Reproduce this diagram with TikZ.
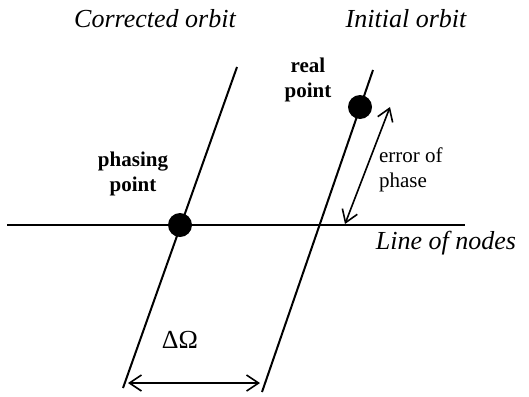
\documentclass[tikz,border=0pt]{standalone}
\usepackage{fontspec}
\setmainfont{Liberation Serif}
\usetikzlibrary{arrows.meta}
\tikzset{
  orbit/.style={line width=1pt},
  dot/.style={circle,fill=black,inner sep=0pt,minimum size=12pt},
  ptlbl/.style={font=\fontsize{10.5}{12.5}\selectfont\bfseries,align=center},
  nlbl/.style={font=\fontsize{10.5}{12.5}\selectfont,align=left},
  ttl/.style={font=\fontsize{13}{15}\selectfont\itshape,anchor=base},
  dim/.style={{Straight Barb[length=6pt,width=8pt]}-{Straight Barb[length=6pt,width=8pt]},line width=0.8pt},
}
\begin{document}
\begin{tikzpicture}[x=0.5pt,y=-0.5pt]
  \useasboundingbox (0,0) rectangle (529,396);

  % line ends
  \coordinate (cTop) at (237,67);
  \coordinate (cBot) at (123,388);
  \coordinate (iTop) at (373,70);
  \coordinate (iBot) at (262,392);
  \coordinate (nW) at (7,225);
  \coordinate (nE) at (465,225);
  \coordinate (eLo) at (345,224);
  \coordinate (eHi) at (390,107);
  \coordinate (dL) at (128,383);
  \coordinate (dR) at (260,383);

  \draw[orbit] (cTop) -- (cBot);
  \draw[orbit] (iTop) -- (iBot);
  \draw[orbit] (nW) -- (nE);

  \node[dot] (phase) at (180,225) {};
  \node[dot] (real) at (360,107) {};

  \draw[dim] (eLo) -- (eHi);
  \draw[dim] (dL) -- (dR);

  \node[ttl] (corr) at (155,27) {Corrected orbit};
  \node[ttl] (init) at (406,27) {Initial orbit};
  \node[ptlbl] (reallbl) at (308,80) {real\\point};
  \node[ptlbl] (phaselbl) at (133,174) {phasing\\point};
  \node[nlbl,anchor=west] (err) at (372,170) {error of\\phase};
  \node[ttl] (nodes) at (446,249) {Line of nodes};
  \node[font=\fontsize{13}{15}\selectfont] (domega) at (180,340) {ΔΩ};
\end{tikzpicture}
\end{document}
